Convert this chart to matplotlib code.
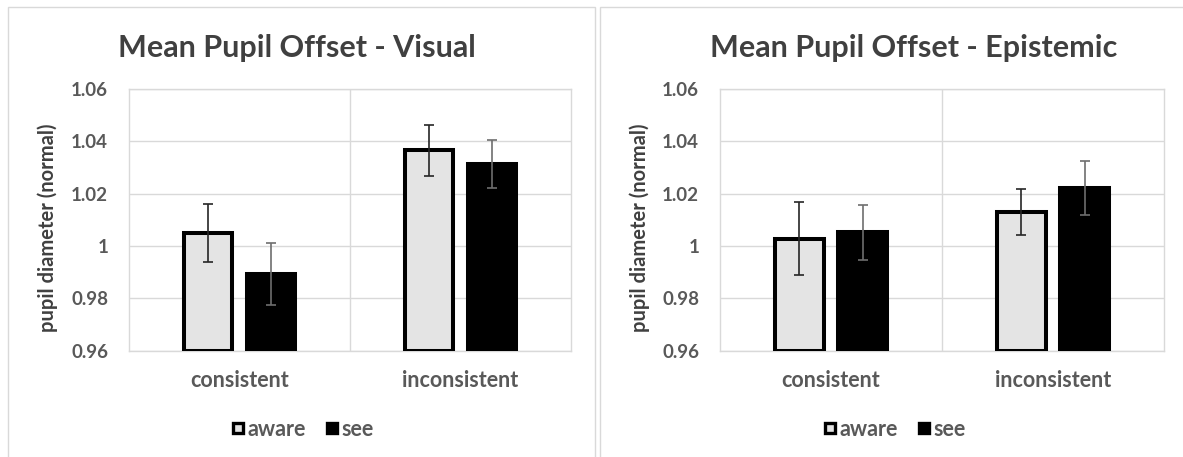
import numpy as np
import matplotlib
matplotlib.use("Agg")
import matplotlib.pyplot as plt
from matplotlib.lines import Line2D
from matplotlib.patches import Rectangle

plt.rcParams['font.family'] = ['Lato', 'DejaVu Sans']
plt.rcParams['font.weight'] = 'bold'

# data
categories = ['consistent', 'inconsistent']
series = ['aware', 'see']

visual_aware = [1.005, 1.0365]
visual_see = [0.9893, 1.0313]
visual_aware_err = [0.011, 0.0099]
visual_see_err = [0.012, 0.0093]

epist_aware = [1.0028, 1.0129]
epist_see = [1.0053, 1.0221]
epist_aware_err = [0.014, 0.0088]
epist_see_err = [0.0105, 0.0103]

titles = ['Mean Pupil Offset - Visual', 'Mean Pupil Offset - Epistemic']
ylabel = 'pupil diameter (normal)'
yticks = [0.96, 0.98, 1.0, 1.02, 1.04, 1.06]
ytick_labels = ['0.96', '0.98', '1', '1.02', '1.04', '1.06']

W, H = 1183, 457
fig = plt.figure(figsize=(W / 100, H / 100), dpi=100)

grid_c = '#d9d9d9'
text_c = '#595959'
aware_fill = '#e4e4e4'

def fx(px):
    return px / W

def fy(py):
    return 1 - py / H

# panel frames
for x0, x1 in [(8, 595), (600, 1195)]:
    fig.add_artist(Rectangle((fx(x0), fy(470)), fx(x1 - x0), (470 - 7) / H,
                             transform=fig.transFigure, fill=False,
                             edgecolor=grid_c, linewidth=1.0))

panels = [
    dict(left=129, right=571, aware=visual_aware, see=visual_see,
         ea=visual_aware_err, es=visual_see_err, title_x=297, ylab_x=48, leg_x=303),
    dict(left=720, right=1164, aware=epist_aware, see=epist_see,
         ea=epist_aware_err, es=epist_see_err, title_x=914, ylab_x=640, leg_x=895),
]

for p, title in zip(panels, titles):
    ax = fig.add_axes([fx(p['left']), fy(350.7), fx(p['right'] - p['left']), (350.7 - 89) / H])
    x = np.arange(len(categories))
    bw = 0.22
    off = 0.142
    base = yticks[0]
    ax.bar(x - off, np.array(p['aware']) - base, bw, bottom=base, color=aware_fill,
           edgecolor='black', linewidth=2.9, zorder=3)
    ax.bar(x + off, np.array(p['see']) - base, bw, bottom=base, color='black',
           edgecolor='black', linewidth=2.9, zorder=3)
    ax.errorbar(x - off, p['aware'], yerr=p['ea'], fmt='none', ecolor='#262626',
                elinewidth=1.2, capsize=3.8, capthick=1.2, zorder=4)
    ax.errorbar(x + off, p['see'], yerr=p['es'], fmt='none', ecolor='#6e6e6e',
                elinewidth=1.2, capsize=3.8, capthick=1.2, zorder=4)

    ax.set_xlim(-0.5, 1.5)
    ax.set_ylim(yticks[0], yticks[-1])
    ax.set_yticks(yticks)
    ax.set_yticklabels(ytick_labels)
    ax.set_xticks(x)
    ax.set_xticklabels(categories)
    ax.tick_params(axis='both', length=0, colors=text_c)
    ax.tick_params(axis='y', pad=15, labelsize=13.5)
    ax.tick_params(axis='x', pad=14, labelsize=15.5)
    ax.grid(axis='y', color=grid_c, linewidth=1.0, zorder=0)
    ax.axvline(0.5, color=grid_c, linewidth=1.0, zorder=0)
    for s in ax.spines.values():
        s.set_color(grid_c)
        s.set_linewidth(1.0)

    fig.text(fx(p['title_x']), fy(57), title, ha='center', va='baseline',
             fontsize=22, color='#404040', fontweight='bold')
    fig.text(fx(p['ylab_x']), fy(228), ylabel, rotation=90, ha='center', va='center',
             fontsize=14.5, color='#404040', fontweight='bold')

    handles = [
        Line2D([], [], marker='s', ls='', markersize=7.5, markerfacecolor=aware_fill,
               markeredgecolor='black', markeredgewidth=2.4),
        Line2D([], [], marker='s', ls='', markersize=7.5, markerfacecolor='black',
               markeredgecolor='black', markeredgewidth=2.4),
    ]
    leg = ax.legend(handles, series, loc='center', bbox_to_anchor=(fx(p['leg_x']), fy(429)),
                    bbox_transform=fig.transFigure, ncol=2, frameon=False,
                    handlelength=0.6, handletextpad=0.15, columnspacing=0.9,
                    fontsize=15.5, borderpad=0)
    for t in leg.get_texts():
        t.set_color(text_c)

fig.savefig('out.png', dpi=100)
